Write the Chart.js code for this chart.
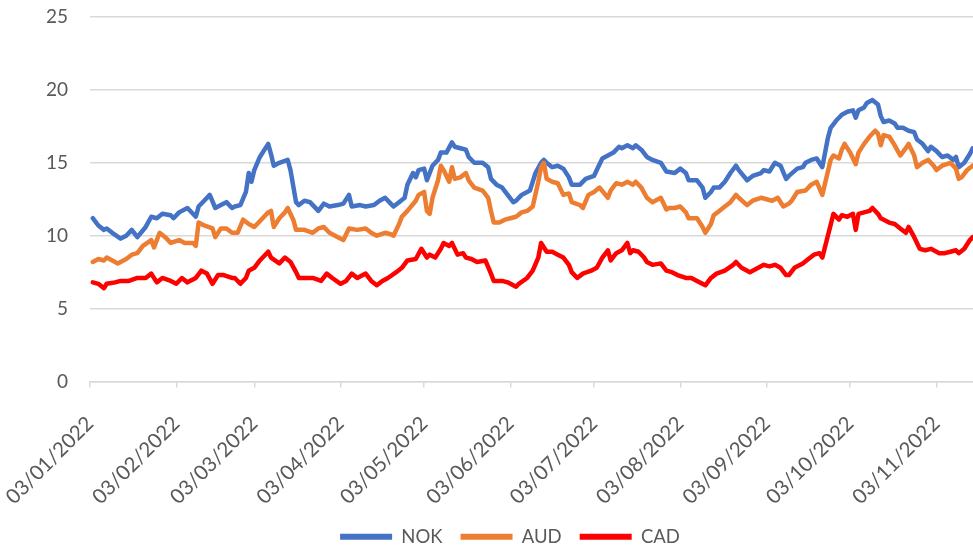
<!DOCTYPE html>
<html>
<head>
<meta charset="utf-8">
<script src="https://cdn.jsdelivr.net/npm/chart.js@4.4.1/dist/chart.umd.min.js"></script>
<style>
  html, body { margin: 0; padding: 0; background: #ffffff; overflow: hidden; width: 973px; height: 551px; }
  canvas { display: block; }
</style>
</head>
<body>
<canvas id="c" width="1020" height="560" style="width:1020px;height:560px"></canvas>
<script>
// Day offsets are counted from 03/01/2022 (day 0)
const tickDays = [0, 31, 59, 90, 120, 151, 181, 212, 243, 273, 304];
const tickLabels = ['03/01/2022','03/02/2022','03/03/2022','03/04/2022','03/05/2022','03/06/2022',
                    '03/07/2022','03/08/2022','03/09/2022','03/10/2022','03/11/2022'];
const seriesNames = ['NOK', 'AUD', 'CAD'];

// [day offset, value]
const nokSeries = [[1,11.2],[3,10.7],[5,10.4],[6,10.5],[8,10.2],[11,9.8],[13,10.0],[15,10.4],[17,9.9],[20,10.6],[22,11.3],[24,11.2],[26,11.5],[29,11.4],[30,11.2],[32,11.6],[35,11.9],[38,11.3],[39,12.0],[41,12.4],[43,12.8],[45,11.9],[47,12.1],[49,12.3],[51,11.9],[52,12.0],[54,12.1],[56,13.0],[57,14.3],[58,13.7],[59,14.5],[61,15.4],[64,16.3],[65,15.6],[66,14.8],[68,15.0],[71,15.2],[72,14.5],[74,12.3],[75,12.1],[77,12.4],[79,12.3],[82,11.7],[84,12.2],[86,12.0],[89,12.1],[91,12.2],[93,12.8],[94,12.0],[97,12.1],[99,12.0],[102,12.1],[104,12.4],[106,12.6],[108,12.2],[109,12.0],[111,12.3],[113,12.6],[114,13.5],[116,14.3],[117,14.0],[118,14.5],[120,14.6],[121,13.8],[123,14.8],[125,15.2],[126,15.7],[128,15.7],[130,16.4],[131,16.1],[133,16.0],[135,15.9],[136,15.4],[138,15.0],[141,15.0],[143,14.7],[144,13.9],[146,13.5],[148,13.3],[150,12.8],[152,12.3],[153,12.4],[155,12.8],[156,12.9],[158,13.1],[160,14.3],[162,15.0],[163,15.2],[164,15.0],[166,14.7],[168,14.8],[170,14.6],[172,14.0],[173,13.5],[176,13.5],[178,13.9],[181,14.1],[182,14.5],[184,15.3],[186,15.5],[188,15.7],[190,16.1],[191,16.0],[193,16.2],[195,16.0],[196,16.2],[198,15.9],[200,15.4],[202,15.2],[205,15.0],[207,14.4],[210,14.3],[212,14.6],[214,14.3],[215,13.8],[218,13.8],[220,13.3],[221,12.6],[223,13.0],[224,13.3],[226,13.3],[228,13.7],[230,14.3],[232,14.8],[233,14.5],[236,13.8],[238,14.1],[241,14.3],[242,14.5],[244,14.4],[246,15.0],[248,14.8],[250,13.9],[251,14.1],[254,14.6],[256,14.7],[257,15.0],[259,15.2],[261,15.3],[263,14.7],[264,15.7],[265,16.7],[266,17.4],[268,17.9],[270,18.3],[272,18.5],[274,18.6],[275,18.1],[276,18.6],[278,18.8],[279,19.1],[281,19.3],[283,19.0],[284,18.2],[285,17.8],[287,17.9],[289,17.7],[290,17.4],[292,17.4],[294,17.2],[296,17.1],[297,16.6],[299,16.3],[301,15.8],[302,16.1],[304,15.8],[306,15.4],[308,15.5],[310,15.2],[311,15.4],[312,14.7],[314,15.0],[316,15.6],[317,16.0]];

const audSeries = [[1,8.2],[3,8.4],[5,8.3],[6,8.5],[8,8.3],[10,8.1],[13,8.4],[15,8.7],[17,8.8],[19,9.3],[22,9.7],[23,9.2],[25,10.2],[27,9.9],[29,9.5],[32,9.7],[34,9.5],[37,9.5],[38,9.3],[39,10.9],[41,10.7],[44,10.5],[45,9.9],[47,10.5],[49,10.5],[51,10.2],[53,10.2],[55,11.1],[57,10.8],[59,10.6],[62,11.2],[64,11.6],[65,11.7],[66,10.6],[68,11.2],[70,11.6],[71,11.9],[73,11.1],[74,10.4],[77,10.4],[80,10.2],[82,10.5],[84,10.6],[86,10.2],[89,9.9],[91,9.7],[93,10.5],[96,10.4],[99,10.5],[101,10.2],[103,10.0],[106,10.2],[108,10.1],[109,10.0],[111,10.8],[112,11.3],[114,11.7],[117,12.4],[118,12.8],[120,13.0],[121,11.7],[122,11.5],[123,12.6],[125,13.8],[126,14.8],[127,14.5],[129,13.7],[130,14.7],[131,13.9],[133,14.0],[135,14.3],[136,13.8],[138,13.3],[141,13.1],[143,12.6],[144,11.7],[145,10.9],[147,10.9],[149,11.1],[151,11.2],[153,11.3],[155,11.6],[157,11.7],[159,12.0],[161,13.7],[162,14.7],[163,15.0],[164,13.9],[166,13.7],[168,13.6],[170,12.8],[172,12.9],[173,12.3],[176,12.1],[177,11.9],[179,12.8],[181,13.0],[183,13.3],[186,12.6],[187,13.1],[189,13.6],[191,13.5],[193,13.7],[195,13.5],[196,13.7],[198,13.3],[200,12.6],[202,12.3],[205,12.6],[207,11.8],[208,11.9],[210,11.9],[212,12.0],[214,11.6],[215,11.2],[218,11.2],[220,10.6],[221,10.2],[223,10.8],[224,11.4],[226,11.7],[228,12.0],[230,12.3],[232,12.8],[233,12.6],[236,12.1],[238,12.4],[241,12.6],[243,12.5],[245,12.4],[247,12.6],[249,12.0],[251,12.2],[252,12.4],[254,13.0],[257,13.1],[259,13.5],[261,13.7],[263,12.8],[265,14.4],[266,15.2],[267,15.5],[269,15.3],[270,15.9],[271,16.3],[273,15.7],[275,14.9],[276,15.7],[278,16.3],[280,16.8],[282,17.2],[283,17.0],[284,16.2],[285,16.9],[287,16.8],[289,16.2],[291,15.5],[293,16.0],[294,16.3],[296,15.5],[297,14.7],[299,15.0],[301,15.2],[303,14.8],[304,14.5],[306,14.8],[309,15.0],[311,14.6],[312,13.9],[313,14.0],[315,14.5],[317,14.8]];

const cadSeries = [[1,6.8],[3,6.7],[5,6.4],[6,6.7],[9,6.8],[11,6.9],[14,6.9],[17,7.1],[20,7.1],[22,7.4],[24,6.8],[26,7.1],[29,6.9],[31,6.7],[33,7.1],[35,6.8],[38,7.1],[40,7.6],[42,7.4],[44,6.7],[46,7.3],[48,7.3],[51,7.1],[52,7.1],[54,6.7],[56,7.1],[57,7.6],[59,7.8],[61,8.3],[64,8.9],[65,8.5],[68,8.1],[70,8.5],[72,8.2],[74,7.5],[75,7.1],[78,7.1],[80,7.1],[83,6.9],[85,7.4],[87,7.1],[90,6.7],[92,6.9],[94,7.4],[96,7.1],[99,7.4],[101,6.9],[103,6.6],[105,6.9],[107,7.1],[110,7.5],[112,7.8],[114,8.3],[117,8.4],[119,9.1],[121,8.5],[122,8.7],[124,8.5],[126,9.1],[127,9.5],[129,9.3],[130,9.5],[132,8.7],[134,8.8],[135,8.5],[137,8.4],[139,8.2],[142,8.3],[144,7.4],[145,6.9],[148,6.9],[150,6.8],[153,6.5],[154,6.7],[157,7.1],[159,7.6],[161,8.5],[162,9.5],[164,8.9],[166,8.9],[168,8.7],[170,8.5],[172,8.0],[173,7.5],[175,7.1],[177,7.4],[180,7.6],[182,7.8],[184,8.5],[186,9.0],[187,8.3],[189,8.8],[191,9.0],[193,9.5],[194,8.8],[195,9.0],[197,8.9],[199,8.5],[200,8.2],[202,8.0],[205,8.1],[207,7.6],[209,7.5],[211,7.3],[214,7.1],[216,7.1],[218,6.9],[221,6.6],[223,7.1],[225,7.4],[228,7.6],[231,8.0],[232,8.2],[234,7.8],[237,7.5],[240,7.8],[242,8.0],[244,7.9],[246,8.0],[248,7.8],[250,7.3],[251,7.3],[253,7.8],[256,8.1],[258,8.4],[260,8.7],[262,8.8],[263,8.5],[265,10.0],[267,11.5],[269,11.1],[270,11.4],[272,11.3],[274,11.5],[275,10.4],[276,11.5],[278,11.6],[280,11.7],[281,11.9],[283,11.5],[284,11.2],[287,10.9],[289,10.8],[291,10.5],[293,10.2],[294,10.6],[296,9.9],[298,9.1],[300,9.0],[302,9.1],[303,9.0],[305,8.8],[307,8.8],[309,8.9],[311,9.0],[312,8.8],[314,9.1],[316,9.7],[317,9.9]];

const yTicks = [0, 5, 10, 15, 20, 25];

const FONT = 'Lato, "Open Sans", "Liberation Sans", sans-serif';
const TEXT = '#595959';
const GRID = '#d9d9d9';

const toPts = s => s.map(p => ({ x: p[0], y: p[1] }));

new Chart(document.getElementById('c'), {
  type: 'line',
  data: {
    datasets: [
      { label: seriesNames[0], data: toPts(nokSeries), borderColor: '#4472C4', backgroundColor: '#4472C4', order: 3 },
      { label: seriesNames[1], data: toPts(audSeries), borderColor: '#ED7D31', backgroundColor: '#ED7D31', order: 2 },
      { label: seriesNames[2], data: toPts(cadSeries), borderColor: '#FF0000', backgroundColor: '#FF0000', order: 1 }
    ]
  },
  options: {
    responsive: false,
    animation: false,
    events: [],
    layout: { padding: { top: 17, left: 0, right: 0, bottom: 4 } },
    elements: {
      point: { radius: 0 },
      line: { tension: 0, borderWidth: 4.5, borderJoinStyle: 'round', borderCapStyle: 'round', fill: false }
    },
    scales: {
      x: {
        type: 'linear', min: 0, max: 334,
        afterBuildTicks: s => { s.ticks = tickDays.map(v => ({ value: v })); },
        afterFit: s => { s.height = 128; s.paddingLeft = 0; s.paddingRight = 0; },
        ticks: {
          autoSkip: false, maxRotation: 45, minRotation: 45,
          callback: (v, i) => tickLabels[i],
          font: { family: FONT, size: 20.5 }, color: TEXT, padding: 24
        },
        grid: { drawOnChartArea: false, drawTicks: true, tickLength: 6, color: GRID, lineWidth: 1.5 },
        border: { display: true, color: GRID, width: 1.5 }
      },
      y: {
        min: 0, max: 25,
        afterBuildTicks: s => { s.ticks = yTicks.map(v => ({ value: v })); },
        afterFit: s => { s.width = 90; s.paddingTop = 0; s.paddingBottom = 0; },
        ticks: { font: { family: FONT, size: 19 }, color: TEXT, padding: 22 },
        grid: { color: GRID, lineWidth: 1.5, drawTicks: false },
        border: { display: false }
      }
    },
    plugins: {
      tooltip: { enabled: false },
      legend: {
        position: 'bottom',
        labels: {
          font: { family: FONT, size: 18.5 }, color: TEXT,
          boxWidth: 52, boxHeight: 6, padding: 18,
          sort: (a, b) => a.datasetIndex - b.datasetIndex,
          generateLabels: chart => {
            const items = Chart.defaults.plugins.legend.labels.generateLabels(chart);
            items.forEach(it => { it.lineWidth = 0; it.strokeStyle = 'rgba(0,0,0,0)'; });
            return items;
          }
        }
      }
    }
  }
});
</script>
</body>
</html>
